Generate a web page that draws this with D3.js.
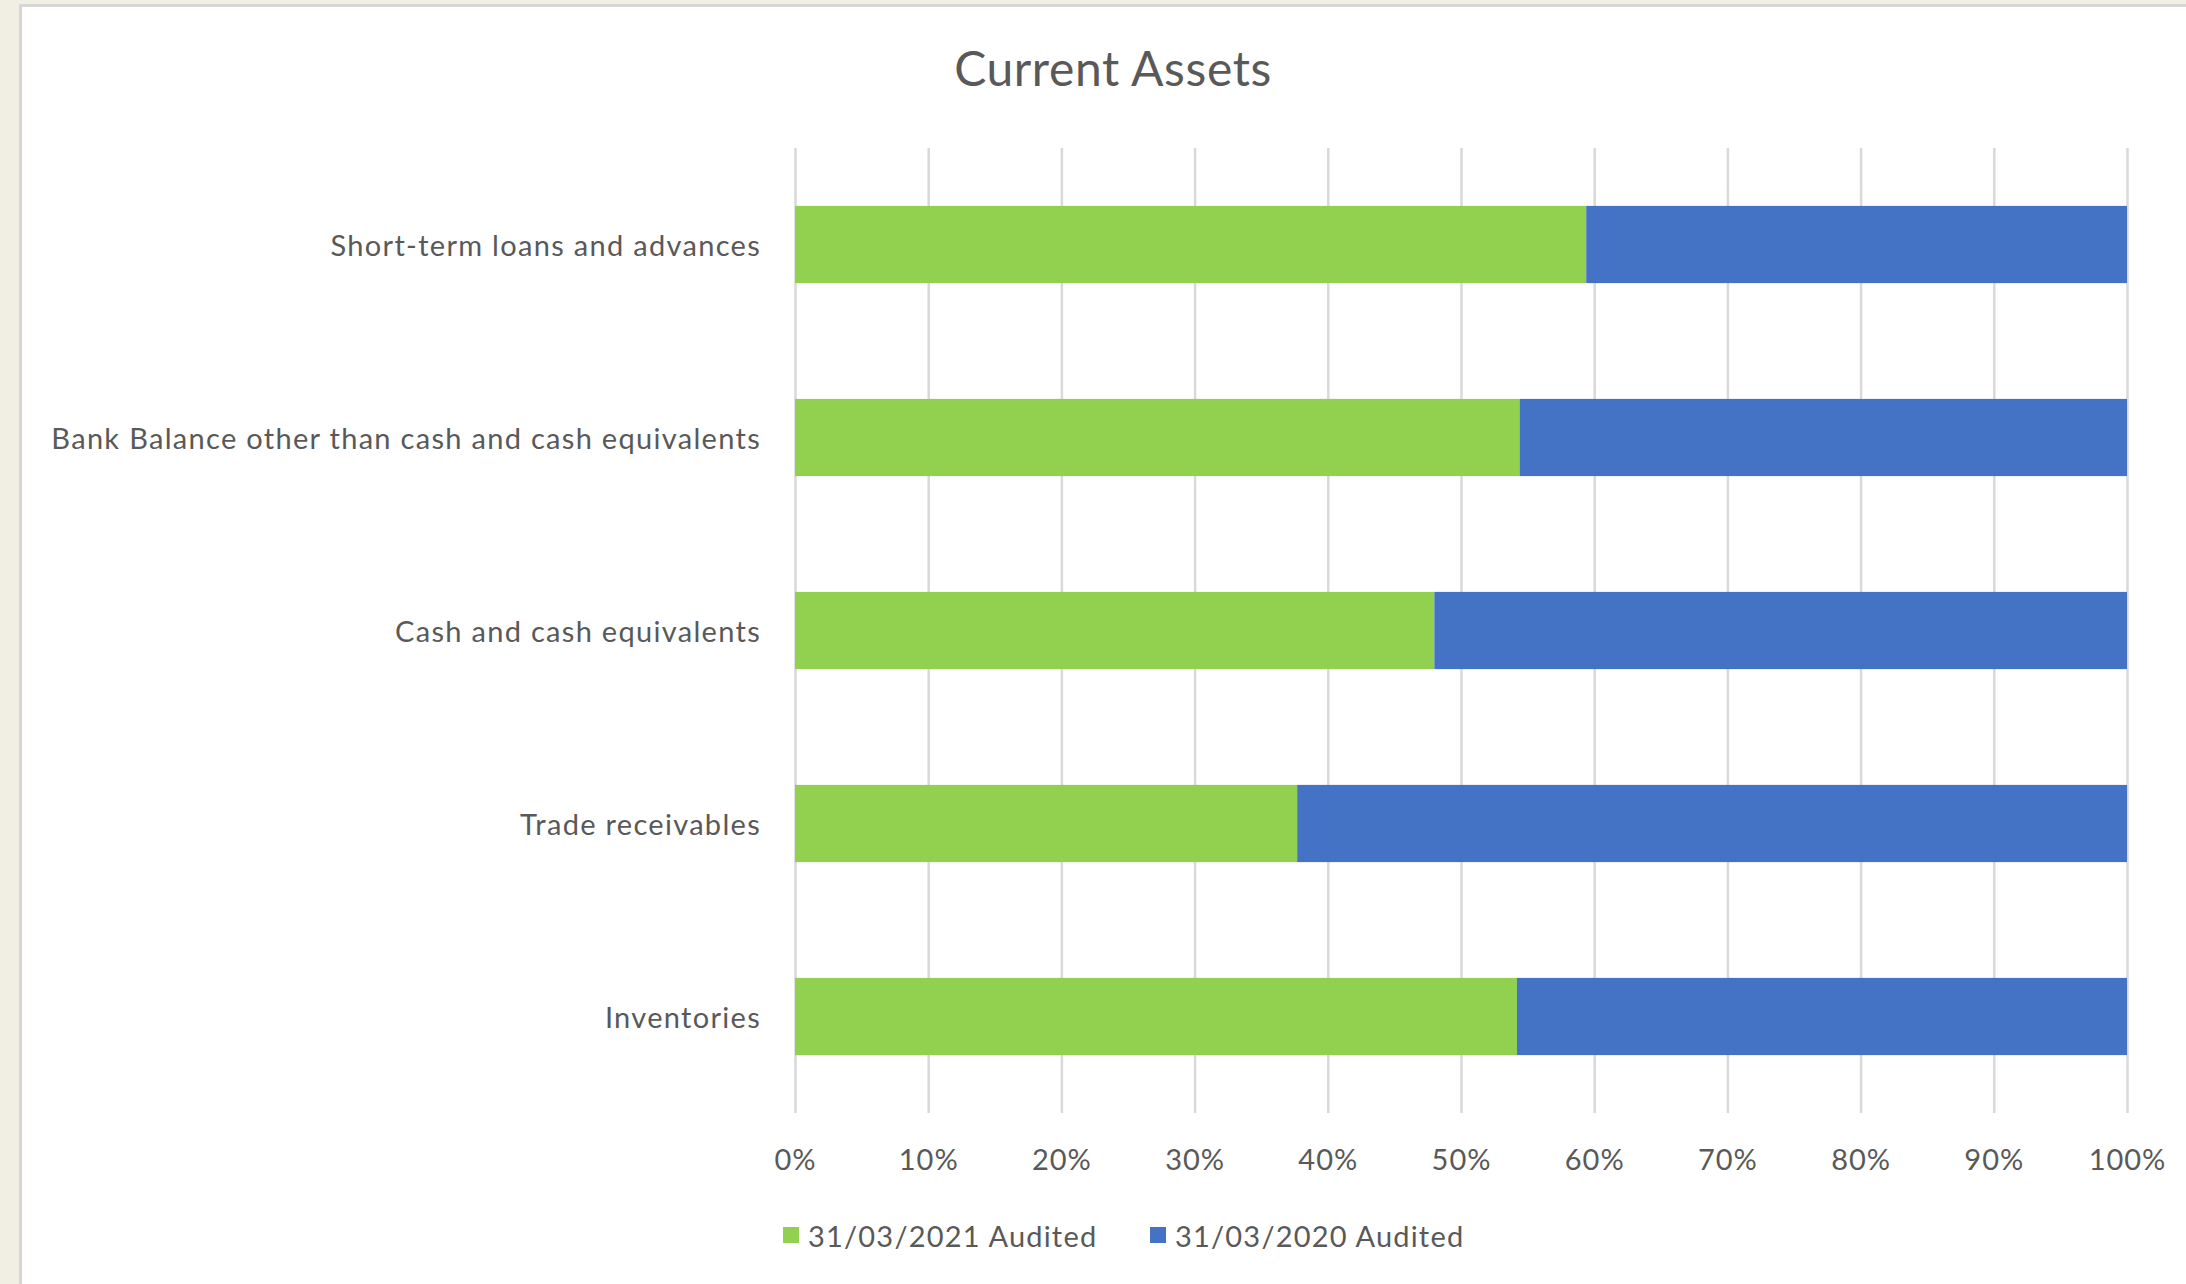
<!DOCTYPE html>
<html>
<head>
<meta charset="utf-8">
<script src="https://cdn.jsdelivr.net/npm/d3@7"></script>
<style>
  body { margin: 0; background: #f1eee3; }
  text { font-family: Lato, "Open Sans", sans-serif; fill: #595959; }
</style>
</head>
<body>
<script>
// categories top to bottom, as in the chart
const categories = [
    "Short-term loans and advances",
    "Bank Balance other than cash and cash equivalents",
    "Cash and cash equivalents",
    "Trade receivables",
    "Inventories"
];
const seriesNames = ["31/03/2021 Audited", "31/03/2020 Audited"];
// share of each row (percent)
const audited2021 = [59.4, 54.4, 48.0, 37.7, 54.2];
const audited2020 = [40.6, 45.6, 52.0, 62.3, 45.8];
const tickValues = [0, 0.1, 0.2, 0.3, 0.4, 0.5, 0.6, 0.7, 0.8, 0.9, 1];
const colors = ["#92d050", "#4472c4"];

const W = 2186, H = 1284;
const margin = { top: 148, right: 59, bottom: 171, left: 795 };
const plotW = W - margin.left - margin.right,
      plotH = H - margin.top - margin.bottom;

const svg = d3.select("body").append("svg")
    .attr("width", W)
    .attr("height", H);

// white chart panel with grey frame
svg.append("rect")
    .attr("x", 20.5).attr("y", 5.5)
    .attr("width", W + 20).attr("height", H + 20)
    .attr("fill", "#fff")
    .attr("stroke", "#d6d6d6")
    .attr("stroke-width", 3);

svg.append("text")
    .attr("x", 1113).attr("y", 67)
    .attr("text-anchor", "middle")
    .attr("dominant-baseline", "central")
    .style("font-size", "48px")
    .style("letter-spacing", "0.6px")
    .text("Current Assets");

const g = svg.append("g").attr("transform", `translate(${margin.left},${margin.top})`);

const x = d3.scaleLinear().domain([0, 1]).range([0, plotW]);
const y = d3.scaleBand().domain(categories).range([0, plotH])
    .paddingInner(0.6).paddingOuter(0.3);

// gridlines + tick labels
const xAxis = g.append("g")
    .attr("transform", `translate(0,${plotH})`)
    .call(d3.axisBottom(x).tickValues(tickValues).tickFormat(d3.format(".0%")).tickSize(-plotH));
xAxis.select(".domain").remove();
xAxis.selectAll("line").attr("stroke", "#d9d9d9").attr("stroke-width", 2.5);
xAxis.selectAll("text")
    .attr("y", 45).attr("dy", null)
    .attr("dominant-baseline", "central")
    .style("font-size", "29px")
    .style("letter-spacing", "1px")
    .attr("fill", "#595959");

const rows = categories.map((c, i) => ({
    cat: c,
    [seriesNames[0]]: audited2021[i] / 100,
    [seriesNames[1]]: audited2020[i] / 100
}));
const stacked = d3.stack().keys(seriesNames)(rows);

g.selectAll("g.series")
    .data(stacked)
    .join("g")
    .attr("class", "series")
    .attr("fill", (d, i) => colors[i])
    .selectAll("rect")
    .data(d => d)
    .join("rect")
    .attr("x", d => x(d[0]))
    .attr("y", d => y(d.data.cat))
    .attr("width", d => x(d[1]) - x(d[0]))
    .attr("height", y.bandwidth());

// category labels
g.selectAll("text.cat")
    .data(categories)
    .join("text")
    .attr("class", "cat")
    .attr("x", -34)
    .attr("y", d => y(d) + y.bandwidth() / 2)
    .attr("text-anchor", "end")
    .attr("dominant-baseline", "central")
    .style("font-size", "29px")
    .style("letter-spacing", "1.3px")
    .text(d => d);

// legend
const legendX = [783, 1150];
const legend = svg.selectAll("g.legend")
    .data(seriesNames)
    .join("g")
    .attr("class", "legend")
    .attr("transform", (d, i) => `translate(${legendX[i]},1235)`);
legend.append("rect")
    .attr("x", 0).attr("y", -8)
    .attr("width", 16).attr("height", 16)
    .attr("fill", (d, i) => colors[i]);
legend.append("text")
    .attr("x", 25).attr("y", 0)
    .attr("dominant-baseline", "central")
    .style("font-size", "29px")
    .style("letter-spacing", "1.2px")
    .text(d => d);
</script>
</body>
</html>
